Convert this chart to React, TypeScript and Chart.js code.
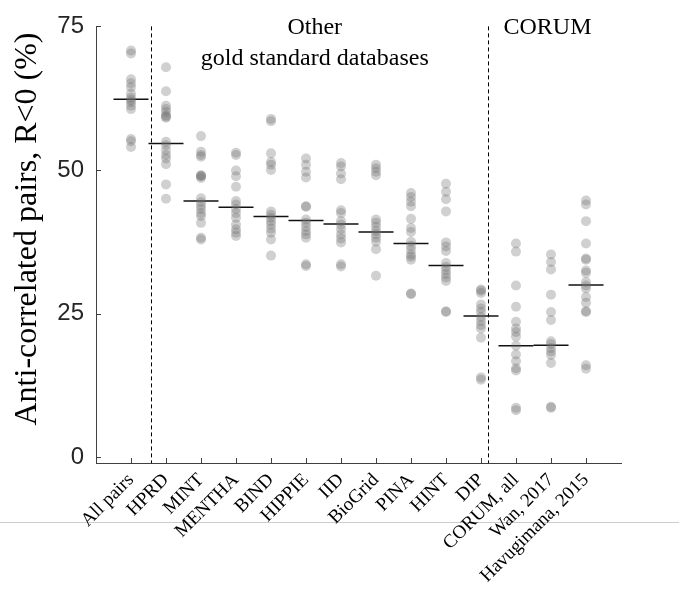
import React, { useEffect, useRef } from 'react';
import { Chart, registerables } from 'chart.js';

Chart.register(...registerables);

const categories = ['All pairs', 'HPRD', 'MINT', 'MENTHA', 'BIND', 'HIPPIE', 'IID', 'BioGrid', 'PINA', 'HINT', 'DIP', 'CORUM, all', 'Wan, 2017', 'Havugimana, 2015'];

const allPairs = [70.8, 70.3, 65.8, 65.1, 64.4, 63.3, 62.6, 62.2, 61.8, 61.2, 60.6, 55.4, 55.0, 54.0];
const hprd = [67.9, 63.7, 61.2, 60.6, 60.1, 59.5, 59.3, 59.1, 54.9, 54.3, 53.4, 52.6, 52.0, 51.0, 47.5, 45.0];
const mint = [55.9, 53.2, 52.6, 52.3, 49.1, 49.0, 48.9, 48.6, 45.1, 44.4, 43.8, 43.2, 42.5, 42.0, 40.8, 38.2, 37.9];
const mentha = [53.0, 52.6, 49.9, 48.9, 47.1, 44.6, 44.0, 43.2, 42.5, 41.7, 40.5, 39.7, 39.1, 38.5];
const bind = [58.9, 58.5, 52.9, 51.4, 50.9, 50.0, 42.8, 42.2, 41.7, 41.1, 40.5, 39.8, 39.1, 37.9, 35.1];
const hippie = [52.0, 50.9, 49.7, 48.7, 43.7, 43.6, 41.4, 40.8, 40.1, 39.4, 38.8, 38.2, 33.6, 33.3];
const iid = [51.2, 50.6, 49.4, 48.4, 43.0, 42.5, 41.1, 40.5, 39.7, 38.8, 38.1, 37.4, 33.6, 33.2];
const biogrid = [50.9, 50.3, 49.7, 49.1, 41.4, 40.8, 40.1, 39.4, 38.8, 38.2, 37.5, 36.2, 31.6];
const pina = [46.0, 45.3, 44.5, 43.7, 41.5, 39.9, 39.2, 37.5, 36.8, 36.1, 35.3, 34.9, 34.4, 28.5, 28.4];
const hint = [47.6, 46.2, 44.9, 42.8, 37.4, 36.7, 35.9, 33.8, 33.1, 32.5, 31.9, 31.3, 30.7, 25.4, 25.3];
const dip = [29.2, 29.0, 28.6, 26.6, 25.9, 25.3, 24.4, 23.7, 23.0, 22.4, 20.8, 13.9, 13.5];
const corumAll = [37.2, 35.8, 29.9, 26.2, 23.6, 22.4, 21.8, 21.0, 19.4, 17.9, 16.7, 15.5, 15.1, 8.6, 8.2];
const wan2017 = [35.3, 34.0, 32.7, 28.3, 25.3, 23.9, 20.2, 19.7, 19.0, 18.4, 17.8, 16.4, 8.8, 8.6];
const havugimana2015 = [44.7, 44.0, 41.1, 37.2, 34.6, 34.4, 32.5, 32.1, 30.5, 29.9, 29.4, 27.9, 26.9, 25.4, 25.3, 16.0, 15.4];

const groups = [allPairs, hprd, mint, mentha, bind, hippie, iid, biogrid, pina, hint, dip, corumAll, wan2017, havugimana2015];
const medians = [62.3, 54.6, 44.6, 43.5, 41.9, 41.2, 40.6, 39.2, 37.2, 33.4, 24.6, 19.4, 19.5, 30.0];

const yTicks = [0, 25, 50, 75];
const separators = [0.57, 10.2];
const yTitle = 'Anti-correlated pairs, R<0 (%)';
const groupLabels = [
  { lines: ['Other', 'gold standard databases'], x: 5.25 },
  { lines: ['CORUM'], x: 11.9 },
];

const AXIS = '#404040';
const SERIF = '"Liberation Serif", "DejaVu Serif", serif';
const SANS = '"Liberation Sans", Arial, sans-serif';

const decor = {
  id: 'decor',
  beforeDraw(chart: any) {
    const ctx = chart.ctx;
    ctx.save();
    ctx.fillStyle = '#ffffff';
    ctx.fillRect(0, 0, chart.width, chart.height);
    ctx.strokeStyle = '#cccccc';
    ctx.lineWidth = 1;
    ctx.beginPath();
    ctx.moveTo(0, 522.5);
    ctx.lineTo(chart.width, 522.5);
    ctx.stroke();
    ctx.restore();
  },
  beforeDatasetsDraw(chart: any) {
    const ctx = chart.ctx;
    const xs = chart.scales.x;
    const ys = chart.scales.y;
    ctx.save();
    ctx.strokeStyle = '#000000';
    ctx.lineWidth = 1;
    ctx.setLineDash([4, 3]);
    separators.forEach((s) => {
      const px = Math.round(xs.getPixelForValue(s)) + 0.5;
      ctx.beginPath();
      ctx.moveTo(px, ys.getPixelForValue(75));
      ctx.lineTo(px, chart.chartArea.bottom);
      ctx.stroke();
    });
    ctx.restore();
  },
  afterDraw(chart: any) {
    const ctx = chart.ctx;
    const xs = chart.scales.x;
    const ys = chart.scales.y;
    const area = chart.chartArea;
    ctx.save();
    ctx.strokeStyle = AXIS;
    ctx.lineWidth = 1;
    categories.forEach((_, i) => {
      const px = Math.round(xs.getPixelForValue(i)) + 0.5;
      ctx.beginPath();
      ctx.moveTo(px, area.bottom);
      ctx.lineTo(px, area.bottom - 5);
      ctx.stroke();
    });
    yTicks.forEach((t) => {
      const py = Math.round(ys.getPixelForValue(t)) + 0.5;
      ctx.beginPath();
      ctx.moveTo(area.left, py);
      ctx.lineTo(area.left + 5, py);
      ctx.stroke();
    });
    ctx.fillStyle = '#000000';
    ctx.font = '24px ' + SERIF;
    ctx.textAlign = 'center';
    ctx.textBaseline = 'middle';
    groupLabels.forEach((g) => {
      const px = xs.getPixelForValue(g.x);
      g.lines.forEach((line, k) => {
        ctx.fillText(line, px, 28 + k * 31);
      });
    });
    ctx.translate(28, 229);
    ctx.rotate(-Math.PI / 2);
    ctx.font = '32px ' + SERIF;
    ctx.fillText(yTitle, 0, 0);
    ctx.restore();
  },
};

export default function App() {
  const ref = useRef<HTMLCanvasElement | null>(null);
  useEffect(() => {
    if (!ref.current) return;
    const points: { x: number; y: number }[] = [];
    groups.forEach((g, i) => g.forEach((v) => points.push({ x: i, y: v })));
    const medianSets = medians.map((m, i) => ({
      type: 'line' as const,
      data: [{ x: i - 0.5, y: m }, { x: i + 0.5, y: m }],
      borderColor: '#111111',
      borderWidth: 1.5,
      pointRadius: 0,
      fill: false,
    }));
    const chart = new Chart(ref.current, {
      type: 'scatter',
      data: {
        datasets: [
          {
            data: points,
            backgroundColor: 'rgba(110,110,110,0.32)',
            borderWidth: 0,
            pointRadius: 5,
            pointHoverRadius: 5,
          } as any,
          ...(medianSets as any),
        ],
      },
      options: {
        responsive: false,
        animation: false,
        devicePixelRatio: 1,
        events: [],
        layout: { padding: { left: 0, right: 58, top: 22, bottom: 0 } },
        plugins: { legend: { display: false }, tooltip: { enabled: false } },
        scales: {
          x: {
            type: 'linear',
            min: -1,
            max: 14,
            afterBuildTicks: (scale: any) => {
              scale.ticks = categories.map((_, i) => ({ value: i }));
            },
            afterFit: (scale: any) => {
              scale.height = 129;
            },
            grid: { display: false, drawTicks: false },
            border: { display: true, color: AXIS, width: 1 },
            ticks: {
              autoSkip: false,
              maxRotation: 45,
              minRotation: 45,
              padding: 6,
              color: '#000000',
              font: { family: SERIF, size: 19 },
              callback: (v: any) => categories[v as number] ?? '',
            },
          },
          y: {
            type: 'linear',
            min: -1,
            max: 75,
            afterBuildTicks: (scale: any) => {
              scale.ticks = yTicks.map((v) => ({ value: v }));
            },
            afterFit: (scale: any) => {
              scale.width = 96;
            },
            grid: { display: false, drawTicks: false },
            border: { display: true, color: AXIS, width: 1 },
            ticks: {
              padding: 12,
              color: '#262626',
              font: { family: SANS, size: 24 },
            },
          },
        },
      },
      plugins: [decor],
    });
    return () => chart.destroy();
  }, []);
  return (
    <div style={{ position: 'absolute', left: 0, top: 0, width: 679, height: 592 }}>
      <canvas ref={ref} width={679} height={592} style={{ display: 'block', width: 679, height: 592 }} />
    </div>
  );
}
